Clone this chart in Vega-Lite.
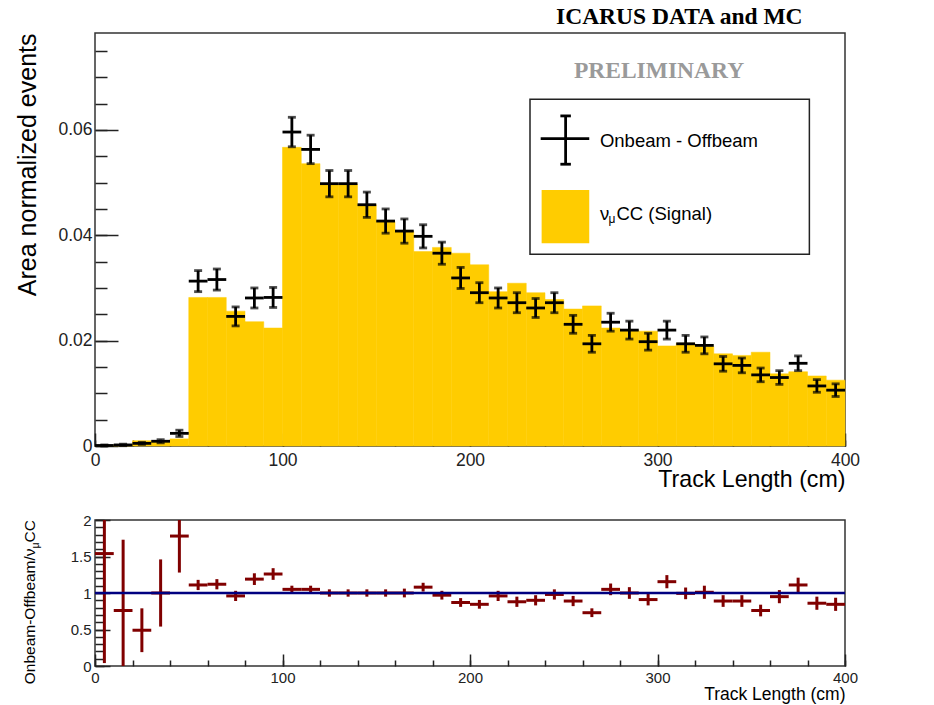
{
  "$schema": "https://vega.github.io/schema/vega-lite/v6.json",
  "background": "white",
  "padding": {"left": 15, "top": 3, "right": 5, "bottom": 0},
  "config": {
    "font": "Liberation Sans",
    "view": {"stroke": "#333333", "strokeWidth": 1.5},
    "axis": {
      "grid": false,
      "domain": false,
      "labelColor": "#222222",
      "titleColor": "#000000",
      "tickColor": "#222222",
      "tickWidth": 1.5,
      "labelFont": "Liberation Sans",
      "titleFont": "Liberation Sans",
      "titleFontWeight": "normal",
      "labelFlush": false,
      "labelOverlap": false
    }
  },
  "datasets": {
    "bins": [
      {"lo": 0, "hi": 10, "mid": 5, "data": 0.0001, "err": 0.0001, "mc": 0.000065, "ratio": 1.54, "rerr": 1.5},
      {"lo": 10, "hi": 20, "mid": 15, "data": 0.0002, "err": 0.00015, "mc": 0.00026, "ratio": 0.76, "rerr": 0.97},
      {"lo": 20, "hi": 30, "mid": 25, "data": 0.0005, "err": 0.0002, "mc": 0.001, "ratio": 0.49, "rerr": 0.3},
      {"lo": 30, "hi": 40, "mid": 35, "data": 0.0009, "err": 0.0003, "mc": 0.0009, "ratio": 1.0, "rerr": 0.46},
      {"lo": 40, "hi": 50, "mid": 45, "data": 0.0024, "err": 0.0006, "mc": 0.00135, "ratio": 1.78, "rerr": 0.5},
      {"lo": 50, "hi": 60, "mid": 55, "data": 0.0313, "err": 0.002, "mc": 0.0282, "ratio": 1.11, "rerr": 0.07},
      {"lo": 60, "hi": 70, "mid": 65, "data": 0.0316, "err": 0.002, "mc": 0.0282, "ratio": 1.12, "rerr": 0.07},
      {"lo": 70, "hi": 80, "mid": 75, "data": 0.0246, "err": 0.0018, "mc": 0.0256, "ratio": 0.96, "rerr": 0.07},
      {"lo": 80, "hi": 90, "mid": 85, "data": 0.0281, "err": 0.0019, "mc": 0.0236, "ratio": 1.19, "rerr": 0.08},
      {"lo": 90, "hi": 100, "mid": 95, "data": 0.0282, "err": 0.0019, "mc": 0.0224, "ratio": 1.26, "rerr": 0.08},
      {"lo": 100, "hi": 110, "mid": 105, "data": 0.0596, "err": 0.0028, "mc": 0.0567, "ratio": 1.05, "rerr": 0.05},
      {"lo": 110, "hi": 120, "mid": 115, "data": 0.0563, "err": 0.0027, "mc": 0.0536, "ratio": 1.05, "rerr": 0.05},
      {"lo": 120, "hi": 130, "mid": 125, "data": 0.0498, "err": 0.0025, "mc": 0.0498, "ratio": 1.0, "rerr": 0.05},
      {"lo": 130, "hi": 140, "mid": 135, "data": 0.0498, "err": 0.0025, "mc": 0.0497, "ratio": 1.0, "rerr": 0.05},
      {"lo": 140, "hi": 150, "mid": 145, "data": 0.0458, "err": 0.0024, "mc": 0.0458, "ratio": 1.0, "rerr": 0.05},
      {"lo": 150, "hi": 160, "mid": 155, "data": 0.0427, "err": 0.0023, "mc": 0.0426, "ratio": 1.0, "rerr": 0.05},
      {"lo": 160, "hi": 170, "mid": 165, "data": 0.0408, "err": 0.0023, "mc": 0.0407, "ratio": 1.0, "rerr": 0.06},
      {"lo": 170, "hi": 180, "mid": 175, "data": 0.0398, "err": 0.0022, "mc": 0.0369, "ratio": 1.08, "rerr": 0.06},
      {"lo": 180, "hi": 190, "mid": 185, "data": 0.0366, "err": 0.0021, "mc": 0.0377, "ratio": 0.97, "rerr": 0.06},
      {"lo": 190, "hi": 200, "mid": 195, "data": 0.0319, "err": 0.002, "mc": 0.0366, "ratio": 0.87, "rerr": 0.06},
      {"lo": 200, "hi": 210, "mid": 205, "data": 0.0291, "err": 0.0019, "mc": 0.0344, "ratio": 0.845, "rerr": 0.06},
      {"lo": 210, "hi": 220, "mid": 215, "data": 0.0281, "err": 0.0019, "mc": 0.0293, "ratio": 0.96, "rerr": 0.07},
      {"lo": 220, "hi": 230, "mid": 225, "data": 0.0272, "err": 0.0019, "mc": 0.0309, "ratio": 0.88, "rerr": 0.07},
      {"lo": 230, "hi": 240, "mid": 235, "data": 0.0262, "err": 0.0018, "mc": 0.0291, "ratio": 0.9, "rerr": 0.07},
      {"lo": 240, "hi": 250, "mid": 245, "data": 0.0272, "err": 0.0019, "mc": 0.0278, "ratio": 0.98, "rerr": 0.07},
      {"lo": 250, "hi": 260, "mid": 255, "data": 0.0231, "err": 0.0017, "mc": 0.026, "ratio": 0.89, "rerr": 0.07},
      {"lo": 260, "hi": 270, "mid": 265, "data": 0.0194, "err": 0.0016, "mc": 0.0266, "ratio": 0.73, "rerr": 0.06},
      {"lo": 270, "hi": 280, "mid": 275, "data": 0.0235, "err": 0.0017, "mc": 0.0224, "ratio": 1.05, "rerr": 0.08},
      {"lo": 280, "hi": 290, "mid": 285, "data": 0.022, "err": 0.0017, "mc": 0.022, "ratio": 1.0, "rerr": 0.08},
      {"lo": 290, "hi": 300, "mid": 295, "data": 0.0198, "err": 0.0016, "mc": 0.0218, "ratio": 0.91, "rerr": 0.08},
      {"lo": 300, "hi": 310, "mid": 305, "data": 0.022, "err": 0.0017, "mc": 0.019, "ratio": 1.155, "rerr": 0.09},
      {"lo": 310, "hi": 320, "mid": 315, "data": 0.0194, "err": 0.0016, "mc": 0.0195, "ratio": 0.995, "rerr": 0.08},
      {"lo": 320, "hi": 330, "mid": 325, "data": 0.0191, "err": 0.0016, "mc": 0.0189, "ratio": 1.01, "rerr": 0.09},
      {"lo": 330, "hi": 340, "mid": 335, "data": 0.0156, "err": 0.0014, "mc": 0.0175, "ratio": 0.89, "rerr": 0.08},
      {"lo": 340, "hi": 350, "mid": 345, "data": 0.0153, "err": 0.0014, "mc": 0.0172, "ratio": 0.89, "rerr": 0.08},
      {"lo": 350, "hi": 360, "mid": 355, "data": 0.0135, "err": 0.0013, "mc": 0.0178, "ratio": 0.76, "rerr": 0.08},
      {"lo": 360, "hi": 370, "mid": 365, "data": 0.013, "err": 0.0013, "mc": 0.0137, "ratio": 0.95, "rerr": 0.09},
      {"lo": 370, "hi": 380, "mid": 375, "data": 0.0157, "err": 0.0014, "mc": 0.0141, "ratio": 1.11, "rerr": 0.1},
      {"lo": 380, "hi": 390, "mid": 385, "data": 0.0114, "err": 0.0012, "mc": 0.0133, "ratio": 0.86, "rerr": 0.09},
      {"lo": 390, "hi": 400, "mid": 395, "data": 0.0106, "err": 0.0012, "mc": 0.0125, "ratio": 0.845, "rerr": 0.09}
    ]
  },
  "spacing": 20,
  "vconcat": [
    {
      "width": 750,
      "height": 413,
      "title": {
        "text": "ICARUS DATA and MC",
        "anchor": "end",
        "font": "Liberation Serif",
        "fontSize": 23.5,
        "fontWeight": "bold",
        "color": "#000000",
        "offset": 5,
        "dx": -57
      },
      "data": {"name": "bins"},
      "resolve": {"axis": {"x": "independent", "y": "independent"}},
      "layer": [
        {
          "mark": {"type": "rect", "color": "#ffcc00", "stroke": "#ffcc00", "strokeWidth": 0.5},
          "encoding": {
            "x": {
              "field": "lo",
              "type": "quantitative",
              "scale": {"domain": [0, 400], "nice": false},
              "axis": {
                "orient": "bottom",
                "values": [0, 100, 200, 300, 400],
                "format": "d",
                "tickSize": -13,
                "labelPadding": 18,
                "labelFontSize": 17.5,
                "title": "Track Length (cm)",
                "titleAnchor": "end",
                "titleFontSize": 23.2,
                "titlePadding": 0
              }
            },
            "x2": {"field": "hi"},
            "y": {
              "field": "mc",
              "type": "quantitative",
              "scale": {"domain": [0, 0.0784], "nice": false},
              "axis": {
                "orient": "left",
                "values": [0, 0.02, 0.04, 0.06],
                "labelExpr": "datum.value === 0 ? '0' : format(datum.value, '.2f')",
                "tickSize": -23,
                "labelPadding": 26,
                "labelFontSize": 17.5,
                "title": "Area normalized events",
                "titleAnchor": "end",
                "titleFontSize": 25,
                "titlePadding": 17
              }
            },
            "y2": {"datum": 0}
          }
        },
        {
          "mark": {"type": "rule", "color": "#000000", "strokeWidth": 2.8},
          "encoding": {
            "x": {
              "field": "lo",
              "type": "quantitative",
              "axis": {
                "orient": "bottom",
                "values": [0, 20, 40, 60, 80, 100, 120, 140, 160, 180, 200, 220, 240, 260, 280, 300, 320, 340, 360, 380, 400],
                "tickSize": -6,
                "labels": false,
                "title": null
              }
            },
            "x2": {"field": "hi"},
            "y": {
              "field": "data",
              "type": "quantitative",
              "axis": {
                "orient": "left",
                "values": [0, 0.005, 0.01, 0.015, 0.02, 0.025, 0.03, 0.035, 0.04, 0.045, 0.05, 0.055, 0.06, 0.065, 0.07, 0.075],
                "tickSize": -12,
                "labels": false,
                "title": null
              }
            }
          }
        },
        {
          "mark": {"type": "errorbar", "ticks": true, "size": 8, "thickness": 2.8, "color": "#000000"},
          "encoding": {
            "x": {"field": "mid", "type": "quantitative", "axis": null},
            "y": {"field": "data", "type": "quantitative", "axis": null},
            "yError": {"field": "err"}
          }
        },
        {
          "data": {"values": [{}]},
          "mark": {"type": "rect", "fill": "white", "stroke": "#222222", "strokeWidth": 1.5},
          "encoding": {"x": {"datum": 232, "axis": null}, "x2": {"datum": 381}, "y": {"datum": 0.06583, "axis": null}, "y2": {"datum": 0.0364}}
        },
        {
          "data": {"values": [{}]},
          "mark": {"type": "rule", "color": "#000000", "strokeWidth": 2.8},
          "encoding": {"x": {"datum": 237.7, "axis": null}, "x2": {"datum": 263.6}, "y": {"datum": 0.05835, "axis": null}}
        },
        {
          "data": {"values": [{}]},
          "mark": {"type": "rule", "color": "#000000", "strokeWidth": 2.8},
          "encoding": {"x": {"datum": 251, "axis": null}, "y": {"datum": 0.06266, "axis": null}, "y2": {"datum": 0.05349}}
        },
        {
          "data": {"values": [{}]},
          "mark": {"type": "rule", "color": "#000000", "strokeWidth": 2.8},
          "encoding": {"x": {"datum": 248.2, "axis": null}, "x2": {"datum": 253.8}, "y": {"datum": 0.06266, "axis": null}}
        },
        {
          "data": {"values": [{}]},
          "mark": {"type": "rule", "color": "#000000", "strokeWidth": 2.8},
          "encoding": {"x": {"datum": 248.2, "axis": null}, "x2": {"datum": 253.8}, "y": {"datum": 0.05349, "axis": null}}
        },
        {
          "data": {"values": [{}]},
          "mark": {"type": "rect", "fill": "#ffcc00"},
          "encoding": {"x": {"datum": 238.2, "axis": null}, "x2": {"datum": 263.6}, "y": {"datum": 0.04861, "axis": null}, "y2": {"datum": 0.03849}}
        },
        {
          "data": {"values": [{}]},
          "mark": {"type": "text", "font": "Liberation Sans", "fontSize": 18.5, "color": "#000000", "align": "left", "baseline": "middle"},
          "encoding": {"x": {"datum": 269.3, "axis": null}, "y": {"datum": 0.05791, "axis": null}, "text": {"value": "Onbeam - Offbeam"}}
        },
        {
          "data": {"values": [{}]},
          "mark": {"type": "text", "font": "Liberation Sans", "fontSize": 18.5, "color": "#000000", "align": "left", "baseline": "middle"},
          "encoding": {"x": {"datum": 269.3, "axis": null}, "y": {"datum": 0.04399, "axis": null}, "text": {"value": "ν"}}
        },
        {
          "data": {"values": [{}]},
          "mark": {"type": "text", "font": "Liberation Sans", "fontSize": 12, "color": "#000000", "align": "left", "baseline": "middle", "dx": 8.5, "dy": 5},
          "encoding": {"x": {"datum": 269.3, "axis": null}, "y": {"datum": 0.04399, "axis": null}, "text": {"value": "μ"}}
        },
        {
          "data": {"values": [{}]},
          "mark": {"type": "text", "font": "Liberation Sans", "fontSize": 18.5, "color": "#000000", "align": "left", "baseline": "middle", "dx": 16.5},
          "encoding": {"x": {"datum": 269.3, "axis": null}, "y": {"datum": 0.04399, "axis": null}, "text": {"value": "CC (Signal)"}}
        },
        {
          "data": {"values": [{}]},
          "mark": {"type": "text", "font": "Liberation Serif", "fontSize": 23.5, "fontWeight": "bold", "color": "#9a9a9a", "align": "center", "baseline": "middle"},
          "encoding": {"x": {"datum": 300.8, "axis": null}, "y": {"datum": 0.0712, "axis": null}, "text": {"value": "PRELIMINARY"}}
        }
      ]
    },
    {
      "width": 750,
      "height": 146,
      "data": {"name": "bins"},
      "resolve": {"axis": {"x": "independent", "y": "independent"}},
      "layer": [
        {
          "mark": {"type": "rule", "color": "#800000", "strokeWidth": 3},
          "encoding": {
            "x": {
              "field": "lo",
              "type": "quantitative",
              "scale": {"domain": [0, 400], "nice": false},
              "axis": {
                "orient": "bottom",
                "values": [0, 100, 200, 300, 400],
                "format": "d",
                "tickSize": -12,
                "labelPadding": 16,
                "labelFontSize": 15,
                "title": "Track Length (cm)",
                "titleAnchor": "end",
                "titleFontSize": 17.5,
                "titlePadding": 0
              }
            },
            "x2": {"field": "hi"},
            "y": {
              "field": "ratio",
              "type": "quantitative",
              "scale": {"domain": [0, 2], "nice": false, "clamp": true},
              "axis": {
                "orient": "left",
                "values": [0, 0.5, 1, 1.5, 2],
                "format": "~g",
                "tickSize": -15,
                "labelPadding": 19,
                "labelFontSize": 15,
                "title": null
              }
            }
          }
        },
        {
          "mark": {"type": "errorbar", "thickness": 3, "color": "#800000"},
          "encoding": {
            "x": {
              "field": "mid",
              "type": "quantitative",
              "axis": {
                "orient": "bottom",
                "values": [0, 20, 40, 60, 80, 100, 120, 140, 160, 180, 200, 220, 240, 260, 280, 300, 320, 340, 360, 380, 400],
                "tickSize": -6,
                "labels": false,
                "title": null
              }
            },
            "y": {
              "field": "ratio",
              "type": "quantitative",
              "axis": {
                "orient": "left",
                "values": [0, 0.1, 0.2, 0.3, 0.4, 0.5, 0.6, 0.7, 0.8, 0.9, 1, 1.1, 1.2, 1.3, 1.4, 1.5, 1.6, 1.7, 1.8, 1.9, 2],
                "tickSize": -9,
                "labels": false,
                "title": null
              }
            },
            "yError": {"field": "rerr"}
          }
        },
        {
          "data": {"values": [{}]},
          "mark": {"type": "rule", "color": "#000080", "strokeWidth": 2.5},
          "encoding": {"y": {"datum": 1, "axis": null}}
        },
        {
          "data": {"values": [{}]},
          "mark": {"type": "text", "font": "Liberation Sans", "fontSize": 15.5, "color": "#000000", "angle": 270, "align": "right", "baseline": "alphabetic"},
          "encoding": {"x": {"datum": -32, "axis": null}, "y": {"datum": 2, "axis": null}, "text": {"value": "CC"}}
        },
        {
          "data": {"values": [{}]},
          "mark": {"type": "text", "font": "Liberation Sans", "fontSize": 10.5, "color": "#000000", "angle": 270, "align": "right", "baseline": "alphabetic", "dx": -22.4, "dy": 4},
          "encoding": {"x": {"datum": -32, "axis": null}, "y": {"datum": 2, "axis": null}, "text": {"value": "μ"}}
        },
        {
          "data": {"values": [{}]},
          "mark": {"type": "text", "font": "Liberation Sans", "fontSize": 15.5, "color": "#000000", "angle": 270, "align": "right", "baseline": "alphabetic", "dx": -28.4},
          "encoding": {"x": {"datum": -32, "axis": null}, "y": {"datum": 2, "axis": null}, "text": {"value": "Onbeam-Offbeam/ν"}}
        }
      ]
    }
  ]
}
